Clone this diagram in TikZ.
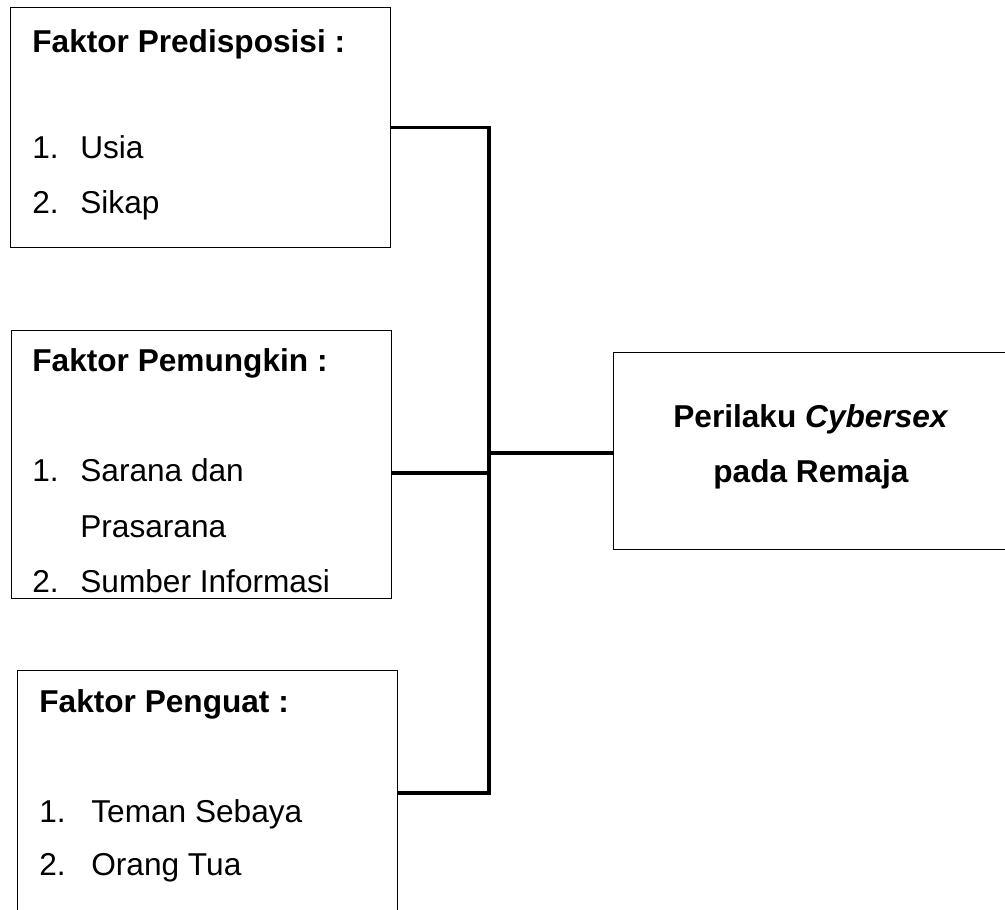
\documentclass[tikz,border=0pt]{standalone}
\usepackage{fontspec}
\setmainfont{Liberation Sans}
\usetikzlibrary{positioning,calc}
\tikzset{>=latex}
\tikzset{
  kotak/.style={draw, line width=0.7pt, inner sep=0pt, anchor=north west},
  teks/.style={anchor=base west, inner sep=0pt},
  tengahteks/.style={anchor=base, inner sep=0pt}
}
\newcommand{\butir}[3][0.96cm]{\makebox[#1][l]{#2}#3}

\begin{document}
\begin{tikzpicture}[x=0.02cm, y=-0.02cm, font=\fontsize{18}{22}\selectfont]
\path[use as bounding box] (0,0) rectangle (1005,910);
\clip (0,0) rectangle (1005,910);
% kotak
\node[kotak, minimum width=7.6cm, minimum height=4.8cm] (pre) at (10,7) {};
\node[kotak, minimum width=7.6cm, minimum height=5.36cm] (pem) at (11,330) {};
\node[kotak, minimum width=7.6cm, minimum height=5.2cm] (pengu) at (17,670) {};
\node[kotak, minimum width=8.04cm, minimum height=3.94cm] (hasil) at (613,352) {};
% isi
\node[teks] (prejudul) at (32,52) {\textbf{Faktor Predisposisi :}};
\node[teks] (usia) at (32,158) {\butir{1.}{Usia}};
\node[teks] (sikap) at (32,213) {\butir{2.}{Sikap}};
\node[teks] (pemjudul) at (32,371) {\textbf{Faktor Pemungkin :}};
\node[teks] (sarana) at (32,481) {\butir{1.}{Sarana dan}};
\node[teks] (prasarana) at (80,537) {Prasarana};
\node[teks] (sumber) at (32,592) {\butir{2.}{Sumber Informasi}};
\node[teks] (pengujudul) at (39,712) {\textbf{Faktor Penguat :}};
\node[teks] (teman) at (39,822) {\butir[1.04cm]{1.}{Teman Sebaya}};
\node[teks] (ortu) at (39,875) {\butir[1.04cm]{2.}{Orang Tua}};
\node[tengahteks] (perilaku) at (811,427) {\textbf{Perilaku \textit{Cybersex}}};
\node[tengahteks] (remaja) at (811,482) {\textbf{pada Remaja}};
% garis
\coordinate (bawah) at (489,793);
\coordinate (tengah) at (489,473);
\coordinate (gabung) at (489,453);
\begin{scope}[line width = 1.9pt]
\draw (pre.east) -| (bawah) -- (pengu.east |- bawah);
\draw (pem.east |- tengah) -- (tengah);
\draw (gabung) -- (hasil.west |- gabung);
\end{scope}
%\draw[help lines] (0,0) grid (1005,910);
\end{tikzpicture}
\end{document}
